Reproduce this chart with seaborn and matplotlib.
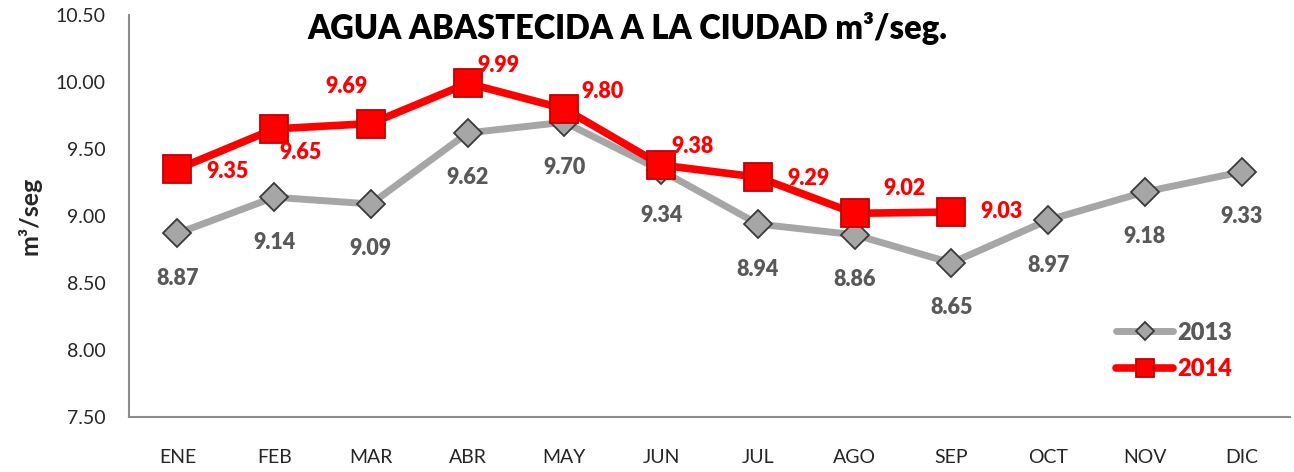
import numpy as np
import pandas as pd
import seaborn as sns
import matplotlib.pyplot as plt
from matplotlib.ticker import FixedLocator

# Data
MONTHS = ["ENE", "FEB", "MAR", "ABR", "MAY", "JUN", "JUL", "AGO", "SEP", "OCT", "NOV", "DIC"]
VALUES_2013 = [8.87, 9.14, 9.09, 9.62, 9.70, 9.34, 8.94, 8.86, 8.65, 8.97, 9.18, 9.33]
VALUES_2014 = [9.35, 9.65, 9.69, 9.99, 9.80, 9.38, 9.29, 9.02, 9.03]

# label offsets in pixels (dx, dy)
OFF_2013 = [(0, -45)] * 12
OFF_2014 = [(50, -2), (26, -24), (-24, 37), (31, 18), (38, 17), (31, 19), (51, -1), (50, 25), (50, 0)]

df13 = pd.DataFrame({"mes": MONTHS, "valor": VALUES_2013})
df14 = pd.DataFrame({"mes": MONTHS[:len(VALUES_2014)], "valor": VALUES_2014})

sns.set_style("white")
plt.rcParams["font.family"] = ["Lato", "DejaVu Sans"]

fig = plt.figure(figsize=(12.94, 4.72), dpi=100)
ax = fig.add_axes([0.0997, 0.1165, 0.8973, 0.8517])

GRAY = "#A6A6A6"
RED = "#FF0000"

sns.lineplot(data=df13, x="mes", y="valor", ax=ax, sort=False, color=GRAY, linewidth=5,
             marker="D", markersize=14, markerfacecolor=GRAY, markeredgecolor="#3A3A3A",
             markeredgewidth=1.3, label="2013")
sns.lineplot(data=df14, x="mes", y="valor", ax=ax, sort=False, color=RED, linewidth=5.5,
             marker="s", markersize=20, markerfacecolor=RED, markeredgecolor="#C00000",
             markeredgewidth=1.3, label="2014")

for i, (v, (dx, dy)) in enumerate(zip(VALUES_2013, OFF_2013)):
    ax.annotate(f"{v:.2f}", (i, v), xytext=(dx, dy), textcoords="offset pixels",
                ha="center", va="center", fontsize=15.5, fontweight="heavy", color="#595959")
for i, (v, (dx, dy)) in enumerate(zip(VALUES_2014, OFF_2014)):
    ax.annotate(f"{v:.2f}", (i, v), xytext=(dx, dy), textcoords="offset pixels",
                ha="center", va="center", fontsize=15.5, fontweight="heavy", color=RED)

ax.set_xlim(-0.5, 11.5)
ax.set_ylim(7.5, 10.5)
ax.set_yticks(np.arange(7.5, 10.51, 0.5))
ax.set_yticklabels([f"{t:.2f}" for t in np.arange(7.5, 10.51, 0.5)], fontsize=14)
ax.set_xticks(range(12))
ax.set_xticklabels(MONTHS, fontsize=14)
ax.xaxis.set_minor_locator(FixedLocator(np.arange(-0.5, 12, 1)))
ax.tick_params(axis="x", which="major", length=0, pad=23)
ax.tick_params(axis="x", which="minor", length=6, width=1.5, color="#8C8C8C", direction="out")
ax.tick_params(axis="y", length=6, width=1.5, color="#8C8C8C", direction="out", pad=11)

for s in ["top", "right"]:
    ax.spines[s].set_visible(False)
for s in ["left", "bottom"]:
    ax.spines[s].set_color("#8C8C8C")
    ax.spines[s].set_linewidth(1.5)

ax.set_xlabel("")
ax.set_ylabel("m³/seg", fontsize=18, fontweight="bold", labelpad=10)

fig.text(0.485, 0.94, "AGUA ABASTECIDA A LA CIUDAD m³/seg.", ha="center", va="center",
         fontsize=23.5, fontweight="heavy", color="black")

leg = ax.legend(loc="upper left", bbox_to_anchor=(0.832, 0.29), frameon=False,
                fontsize=17, handlelength=2.4, handletextpad=0.2, labelspacing=0.6,
                markerscale=0.65)
for txt, col in zip(leg.get_texts(), ["#595959", RED]):
    txt.set_color(col)
    txt.set_fontweight("heavy")

fig.savefig("out.png", dpi=100)
